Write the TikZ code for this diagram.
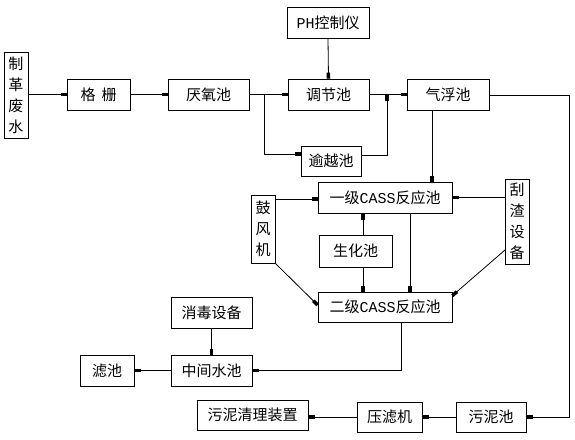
\documentclass[tikz,border=0pt]{standalone}
\usepackage{fontspec}
\setmainfont{Noto Sans CJK SC}
\newfontfamily\latinmono{Liberation Mono}
\usetikzlibrary{arrows.meta}
\begin{document}
\begin{tikzpicture}[x=1pt,y=-1pt,
  box/.style={draw, line width=0.8pt, minimum height=31pt, inner sep=0pt, align=center,
    font=\fontsize{15}{21}\selectfont},
  conn/.style={line width=0.8pt},
  arr/.style={conn, -{Rectangle[length=6pt,width=3.5pt]}}]
\useasboundingbox (0,0) rectangle (575,439);
% nodes
\node[box, minimum width=24pt, minimum height=86pt] (water) at (16,95) {制\\革\\废\\水};
\node[box, minimum width=63pt] (grid) at (98.5,94.5) {格\hspace{6pt}栅};
\node[box, minimum width=81pt] (anaer) at (208.5,94.5) {厌氧池};
\node[box, minimum width=81pt] (adjust) at (328.5,94.5) {调节池};
\node[box, minimum width=82pt] (ph) at (328,22.5) {{\latinmono PH}控制仪};
\node[box, minimum width=60pt, minimum height=30pt] (bypass) at (331,161) {逾越池};
\node[box, minimum width=82pt] (float) at (448,94.5) {气浮池};
\node[box, minimum width=134pt] (cass1) at (385,197.5) {一级{\latinmono CASS}反应池};
\node[box, minimum width=24pt, minimum height=85pt] (scraper) at (517,221.5) {刮\\渣\\设\\备};
\node[box, minimum width=73pt, minimum height=32pt] (bio) at (355.5,251) {生化池};
\node[box, minimum width=134pt, minimum height=30pt] (cass2) at (385,307) {二级{\latinmono CASS}反应池};
\node[box, minimum width=24pt, minimum height=68pt] (blower) at (263,229) {鼓\\风\\机};
\node[box, minimum width=81pt] (disinf) at (211.5,312.5) {消毒设备};
\node[box, minimum width=81pt] (mid) at (211.5,370.5) {中间水池};
\node[box, minimum width=54pt] (filter) at (107,370.5) {滤池};
\node[box, minimum width=111pt, minimum height=30pt] (sludgeclean) at (252.5,415) {污泥清理装置};
\node[box, minimum width=65pt, minimum height=30pt] (press) at (389.5,417) {压滤机};
\node[box, minimum width=70pt, minimum height=30pt] (sludge) at (491,417) {污泥池};
% helper coordinates
\coordinate (j1) at (264,94.5);
\coordinate (j2) at (264,154);
\coordinate (j3) at (387,155);
\coordinate (j4) at (387,94.5);
\coordinate (j5) at (432,0);
\coordinate (j6) at (569,95);
\coordinate (j7) at (275,199);
\coordinate (j8) at (363,0);
\coordinate (j9) at (410,0);
\coordinate (j11) at (505,250);
\coordinate (j12) at (401,370.5);
% connectors
\draw[arr] (water.east |- grid.west) -- (grid.west);
\draw[arr] (grid.east) -- (anaer.west);
\draw[arr] (anaer.east) -- (adjust.west);
\draw[arr] (j1) -- (j2) -- (j2 -| bypass.west);
\draw[arr] (ph.south) -- (adjust.north);
\draw[arr] (adjust.east) -- (float.west);
\draw[arr] (j3 -| bypass.east) -- (j3) -- (j4);
\draw[arr] (j5 |- float.south) -- (j5 |- cass1.north);
\draw[arr] (float.east |- j6) -- (j6) |- (sludge.east);
\draw[arr] (scraper.west |- cass1.east) -- (cass1.east);
\draw[arr] (j7) -- (j7 -| cass1.west);
\draw[arr] (j8 |- bio.north) -- (j8 |- cass1.south);
\draw[arr] (j8 |- bio.south) -- (j8 |- cass2.north);
\draw[arr] (j9 |- cass1.south) -- (j9 |- cass2.north);
\draw[arr] (blower.south east) -- ([yshift=2pt]cass2.west);
\draw[arr] (j11) -- ([yshift=-4pt]cass2.north east);
\draw[arr] (j12 |- cass2.south) -- (j12) -- (mid.east);
\draw[arr] (disinf.south) -- (mid.north);
\draw[arr] (mid.west) -- (filter.east);
\draw[arr] (sludge.west) -- (press.east);
\draw[arr] (press.west) -- (press.west -| sludgeclean.east);
\end{tikzpicture}
\end{document}
